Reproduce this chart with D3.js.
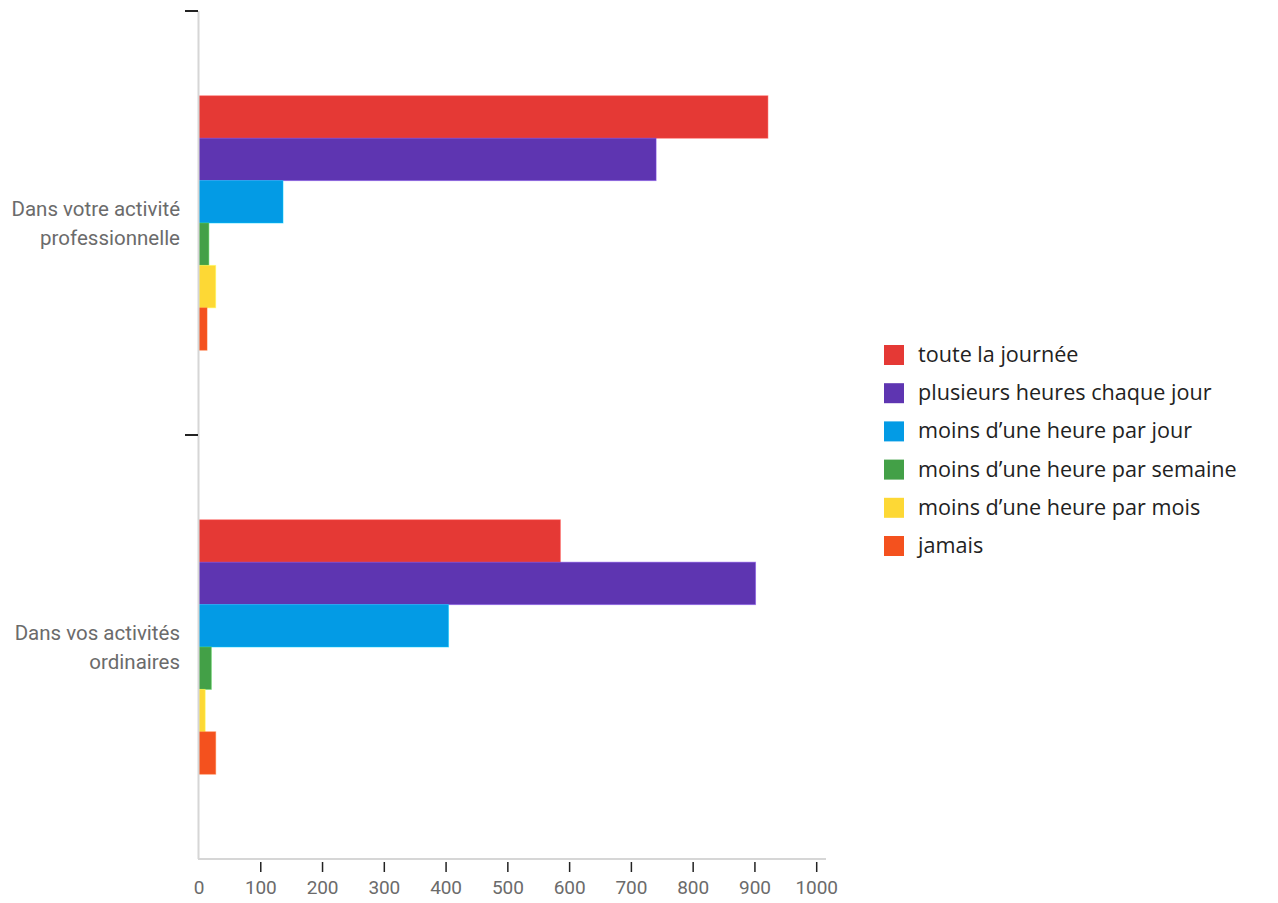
<!DOCTYPE html>
<html>
<head>
<meta charset="utf-8">
<script src="https://cdn.jsdelivr.net/npm/d3@7"></script>
<style>
  html, body { margin: 0; padding: 0; background: #fff; }
  svg { display: block; }
</style>
</head>
<body>
<svg id="chart" width="1278" height="903"></svg>
<script>
const categories = ["Dans votre activité professionnelle", "Dans vos activités ordinaires"];
const categoryLines = [["Dans votre activité", "professionnelle"], ["Dans vos activités", "ordinaires"]];
const seriesNames = ["toute la journée", "plusieurs heures chaque jour", "moins d\u2019une heure par jour", "moins d\u2019une heure par semaine", "moins d\u2019une heure par mois", "jamais"];
const seriesColors = ["#e53935", "#5e35b1", "#039be5", "#43a047", "#fdd835", "#f4511e"];
const valuesPro = [921, 740, 136, 16, 27, 13];
const valuesOrd = [585, 901, 404, 20, 10, 27];
const xTicks = [0, 100, 200, 300, 400, 500, 600, 700, 800, 900, 1000];

(function () {
const values = [valuesPro, valuesOrd];
const svg = d3.select("#chart");
const font = "Roboto, 'Noto Sans', sans-serif";

const mLeft = 199, mRight = 826, mTop = 11, mBottom = 859;
const x = d3.scaleLinear().domain([0, 1000]).range([mLeft, 816.7]);
const y0 = d3.scaleBand().domain(categories).range([mTop, mBottom]).padding(0);
const y1 = d3.scaleBand().domain(seriesNames).range([y0.bandwidth() * 0.2, y0.bandwidth() * 0.8]);

// bars
categories.forEach((c, ci) => {
  const g = svg.append("g").attr("transform", `translate(0,${y0(c)})`);
  g.selectAll("rect").data(seriesNames.map((s, si) => ({ s, v: values[ci][si], color: seriesColors[si] })))
    .join("rect")
    .attr("x", x(0))
    .attr("y", d => y1(d.s))
    .attr("width", d => x(d.v) - x(0))
    .attr("height", y1.bandwidth())
    .attr("fill", d => d.color)
    .attr("stroke", d => d3.color(d.color).brighter(0.8))
    .attr("stroke-opacity", 0.5)
    .attr("stroke-width", 1);
});

// left axis line
svg.append("line").attr("x1", 198.5).attr("x2", 198.5).attr("y1", mTop).attr("y2", mBottom)
  .attr("stroke", "#d6d6d6").attr("stroke-width", 2);
// bottom axis line
svg.append("line").attr("x1", 198).attr("x2", mRight).attr("y1", mBottom).attr("y2", mBottom)
  .attr("stroke", "#d6d6d6").attr("stroke-width", 2);

// left ticks at band edges
const edges = [y0(categories[0]), y0(categories[1])];
svg.selectAll(".ytick").data(edges).join("line")
  .attr("x1", 185).attr("x2", 198).attr("y1", d => d).attr("y2", d => d)
  .attr("stroke", "#222").attr("stroke-width", 2);

// category labels
categories.forEach((c, ci) => {
  const cy = y0(c) + y0.bandwidth() / 2;
  const t = svg.append("text").attr("x", 180).attr("y", cy - 7)
    .attr("text-anchor", "end").attr("fill", "#6b6b6b")
    .style("font-family", font).style("font-size", "20.5px");
  categoryLines[ci].forEach((ln, li) => {
    t.append("tspan").attr("x", 180).attr("dy", li === 0 ? "0" : "28.5").text(ln);
  });
});

// bottom ticks
const xAxis = svg.append("g");
xAxis.selectAll("line").data(xTicks.filter(d => d > 0)).join("line")
  .attr("x1", d => x(d)).attr("x2", d => x(d)).attr("y1", 862).attr("y2", 872)
  .attr("stroke", "#222").attr("stroke-width", 1.5);
xAxis.selectAll("text").data(xTicks).join("text")
  .attr("x", d => x(d)).attr("y", 894)
  .attr("text-anchor", "middle").attr("fill", "#6b6b6b")
  .style("font-family", font).style("font-size", "19px")
  .style("letter-spacing", "-0.1px")
  .text(d => d);

// legend
const legend = svg.append("g").attr("transform", "translate(884,345)");
const lg = legend.selectAll("g").data(seriesNames).join("g")
  .attr("transform", (d, i) => `translate(0,${i * 38.2})`);
lg.append("rect").attr("width", 20).attr("height", 20)
  .attr("fill", (d, i) => seriesColors[i]);
lg.append("text").attr("x", 34).attr("y", 17)
  .attr("fill", "#222")
  .style("font-family", "'Open Sans', 'Noto Sans', sans-serif").style("font-size", "21.6px")
  .text(d => d);
})();
</script>
</body>
</html>
